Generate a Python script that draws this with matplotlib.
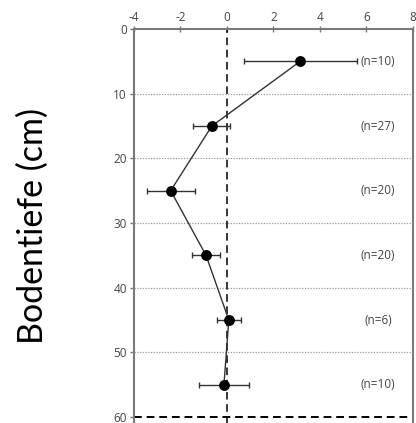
import matplotlib
matplotlib.use("Agg")
import matplotlib.pyplot as plt

plt.rcParams["axes.unicode_minus"] = False

depths = [5, 15, 25, 35, 45, 55]
means = [3.15, -0.65, -2.42, -0.9, 0.08, -0.13]
errs = [2.43, 0.8, 1.03, 0.6, 0.52, 1.09]
n_labels = ["(n=10)", "(n=27)", "(n=20)", "(n=20)", "(n=6)", "(n=10)"]
xticks = [-4, -2, 0, 2, 4, 6, 8]
yticks = [0, 10, 20, 30, 40, 50, 60]

fig = plt.figure(figsize=(4.16, 4.23), dpi=100)
ax = fig.add_axes([0.322, -0.0088, 0.6707, 0.9402])

gray = "#7a7a7a"
for y in yticks[1:-1]:
    ax.axhline(y, color="#9a9a9a", lw=0.9, ls=(0, (1, 1.2)), zorder=1)
ax.axvline(0, color="black", lw=1.1, ls=(0, (5, 3)), zorder=2)
ax.axhline(60, color="black", lw=1.4, ls=(0, (4, 2.5)), zorder=2)

ax.errorbar(means, depths, xerr=errs, fmt="o", color="black", ecolor="#333333",
            elinewidth=1.0, capsize=2.5, capthick=1.0, markersize=6.8, zorder=4)
ax.plot(means, depths, color="#333333", lw=1.0, zorder=3)

for d, t in zip(depths, n_labels):
    ax.text(6.5, d, t, ha="center", va="center", fontsize=8.5, color="#444444",
            family="Open Sans")

ax.set_xlim(-4, 8)
ax.set_ylim(61.5, 0)
ax.set_xticks(xticks)
ax.set_yticks(yticks)
ax.xaxis.tick_top()
ax.tick_params(axis="x", direction="inout", length=5, width=1, color=gray,
               labelsize=8.5, labelcolor="#444444", pad=1)
ax.tick_params(axis="y", direction="out", length=3, width=1, color=gray,
               labelsize=8.5, labelcolor="#444444", pad=2)
for lab in ax.get_xticklabels() + ax.get_yticklabels():
    lab.set_family("Open Sans")
for s in ["top", "left", "right"]:
    ax.spines[s].set_color(gray)
    ax.spines[s].set_linewidth(1.5)
ax.spines["bottom"].set_visible(False)

fig.text(0.078, 0.466, "Bodentiefe (cm)", rotation=90, ha="center", va="center",
         fontsize=24.5, family="Lato", color="black")

fig.savefig("out.png", dpi=100)
